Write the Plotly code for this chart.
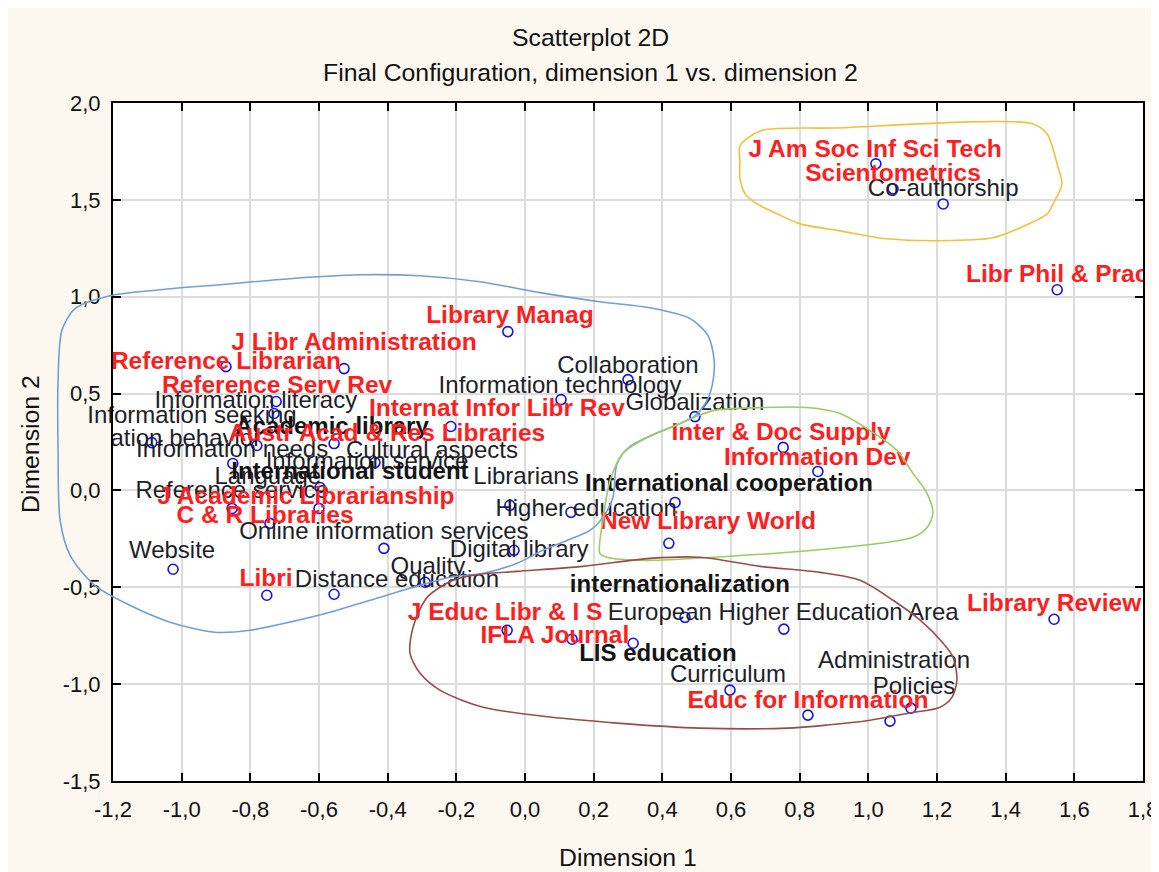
import plotly.graph_objects as go

# ---------------- data (Dimension 1, Dimension 2) ----------------
point_dim1 = [1.022, 1.072, 1.218, 1.550, -0.050, -0.871, -0.527, 0.300, 0.105, -0.725,
              -0.731, 0.495, -0.216, -1.087, -0.781, -0.556, -0.851, -0.437, -0.597, -0.600,
              -0.853, -0.743, -0.411, -0.044, -0.032, 0.134, 0.437, 0.419, -1.025, -0.752,
              -0.556, -0.291, -0.052, 0.137, 0.315, 0.466, 0.754, 0.597, 0.824, 1.063,
              1.124, 1.541, 0.752, 0.853]
point_dim2 = [1.686, 1.557, 1.479, 1.036, 0.820, 0.639, 0.629, 0.572, 0.469, 0.459,
              0.397, 0.381, 0.330, 0.247, 0.232, 0.242, 0.139, 0.144, 0.015, -0.093,
              -0.093, -0.170, -0.299, -0.077, -0.309, -0.113, -0.062, -0.273, -0.407, -0.541,
              -0.536, -0.474, -0.722, -0.768, -0.789, -0.655, -0.716, -1.031, -1.160, -1.191,
              -1.124, -0.665, 0.222, 0.098]

journal_labels = ["J Am Soc Inf Sci Tech", "Scientometrics", "Libr Phil & Prac", "Library Manag",
                  "J Libr Administration", "Reference Librarian", "Reference Serv Rev",
                  "Internat Infor Libr Rev", "Austr Acad & Res Libraries", "J Academic Librarianship",
                  "C & R Libraries", "Libri", "Inter & Doc Supply", "Information Dev",
                  "New Library World", "J Educ Libr & I S", "IFLA Journal", "Educ for Information",
                  "Library Review"]
journal_dim1 = [1.020, 1.072, 1.550, -0.044, -0.498, -0.871, -0.722, -0.082, -0.402, -0.638,
                -0.757, -0.754, 0.746, 0.851, 0.533, -0.058, 0.087, 0.824, 1.541]
journal_dim2 = [1.753, 1.629, 1.108, 0.897, 0.758, 0.660, 0.536, 0.418, 0.289, -0.036,
                -0.134, -0.464, 0.294, 0.165, -0.170, -0.639, -0.758, -1.093, -0.593]

main_labels = ["Academic library", "International student", "International cooperation",
               "internationalization", "LIS education"]
main_dim1 = [-0.562, -0.510, 0.594, 0.451, 0.387]
main_dim2 = [0.320, 0.088, 0.026, -0.495, -0.851]

keyword_labels = ["Co-authorship", "Collaboration", "Information technology", "Globalization",
                  "Information literacy", "Information seeking", "Information behavior",
                  "Information needs", "Information service", "Cultural aspects", "Librarians",
                  "Language", "Reference service", "Online information services", "Website",
                  "Distance education", "Quality", "Higher education", "Digital library",
                  "European Higher Education Area", "Curriculum", "Administration", "Policies"]
keyword_dim1 = [1.218, 0.300, 0.102, 0.495, -0.784, -0.970, -1.087, -0.853, -0.460, -0.271,
                0.003, -0.749, -0.853, -0.411, -1.028, -0.373, -0.283, 0.178, -0.017,
                0.752, 0.591, 1.075, 1.133]
keyword_dim2 = [1.552, 0.639, 0.536, 0.448, 0.454, 0.381, 0.258, 0.206, 0.144, 0.196,
                0.062, 0.062, -0.010, -0.222, -0.320, -0.469, -0.402, -0.103, -0.314,
                -0.639, -0.959, -0.887, -1.021]

# hand-drawn cluster outlines
orange_dim1 = [0.626, 0.685, 0.897, 1.480, 1.521, 1.553, 1.564, 1.538, 1.521, 1.442, 1.363,
               1.209, 1.054, 0.918, 0.801, 0.734, 0.676, 0.641, 0.626, 0.626, 0.626]
orange_dim2 = [1.778, 1.856, 1.871, 1.892, 1.840, 1.665, 1.582, 1.479, 1.428, 1.356, 1.304,
               1.289, 1.299, 1.340, 1.376, 1.428, 1.479, 1.531, 1.613, 1.701, 1.778]

green_dim1 = [0.492, 0.548, 0.693, 0.821, 0.918, 1.005, 1.084, 1.130, 1.171, 1.188, 1.171,
              1.130, 1.034, 0.839, 0.548, 0.355, 0.239, 0.218, 0.227, 0.248, 0.285, 0.355,
              0.452, 0.492]
green_dim2 = [0.376, 0.412, 0.428, 0.428, 0.397, 0.309, 0.206, 0.088, -0.015, -0.119, -0.191,
              -0.242, -0.273, -0.309, -0.345, -0.361, -0.345, -0.325, -0.155, 0.052, 0.191,
              0.273, 0.345, 0.376]

blue_dim1 = [-1.349, -1.311, -1.209, -1.063, -0.888, -0.685, -0.481, -0.306, -0.131, 0.044,
             0.218, 0.364, 0.481, 0.533, 0.551, 0.545, 0.527, 0.492, 0.402, 0.306, 0.268,
             0.256, 0.227, 0.189, 0.122, 0.052, -0.023, -0.122, -0.218, -0.335, -0.451,
             -0.568, -0.685, -0.801, -0.903, -1.034, -1.151, -1.253, -1.325, -1.354, -1.360,
             -1.360, -1.349]
blue_dim2 = [0.825, 0.938, 1.005, 1.036, 1.062, 1.093, 1.113, 1.108, 1.077, 1.021, 0.974,
             0.943, 0.887, 0.799, 0.670, 0.541, 0.454, 0.381, 0.309, 0.227, 0.139, -0.036,
             -0.139, -0.206, -0.258, -0.309, -0.376, -0.428, -0.448, -0.505, -0.567, -0.629,
             -0.680, -0.722, -0.732, -0.680, -0.593, -0.490, -0.335, -0.155, 0.206, 0.567,
             0.825]

brown_dim1 = [-0.131, -0.023, 0.169, 0.364, 0.510, 0.685, 0.859, 0.976, 1.072, 1.151, 1.218,
              1.247, 1.258, 1.244, 1.209, 1.121, 1.005, 0.880, 0.763, 0.510, 0.268, 0.073,
              -0.122, -0.248, -0.306, -0.335, -0.326, -0.285, -0.210, -0.131]
brown_dim2 = [-0.433, -0.418, -0.392, -0.351, -0.345, -0.392, -0.423, -0.464, -0.567, -0.670,
              -0.789, -0.861, -0.979, -1.067, -1.119, -1.149, -1.186, -1.211, -1.227, -1.227,
              -1.201, -1.170, -1.119, -1.031, -0.943, -0.840, -0.706, -0.552, -0.464, -0.433]

x_tickvals = [-1.2, -1.0, -0.8, -0.6, -0.4, -0.2, 0.0, 0.2, 0.4, 0.6, 0.8, 1.0, 1.2, 1.4, 1.6, 1.8]
x_ticktext = ["-1,2", "-1,0", "-0,8", "-0,6", "-0,4", "-0,2", "0,0", "0,2", "0,4", "0,6",
              "0,8", "1,0", "1,2", "1,4", "1,6", "1,8"]
y_tickvals = [-1.5, -1.0, -0.5, 0.0, 0.5, 1.0, 1.5, 2.0]
y_ticktext = ["-1,5", "-1,0", "-0,5", "0,0", "0,5", "1,0", "1,5", "2,0"]

title_line1 = "Scatterplot 2D"
title_line2 = "Final Configuration, dimension 1 vs. dimension 2"
x_title = "Dimension 1"
y_title = "Dimension 2"

# labels allowed to overflow the plot frame
unclipped = {"Information seeking", "Reference Librarian"}

# ---------------- layout geometry (figure sits at page offset 8,8) ----------------
W, H = 1159, 872
OFF = 8
x_range = [-1.2, 1.8]
y_range = [-1.5, 2.0]
x_dom = [(113 - OFF) / W, (1143 - OFF) / W]
y_dom = [(H - (781 - OFF)) / H, (H - (103 - OFF)) / H]


def full_range(rng, dom):
    scale = (rng[1] - rng[0]) / (dom[1] - dom[0])
    return [rng[0] - dom[0] * scale, rng[1] + (1 - dom[1]) * scale]


def px(xp):
    return (xp - OFF) / W


def py(yp):
    return 1 - (yp - OFF) / H


FONT = "Liberation Sans, Arial, sans-serif"
RED = "#FF1E1E"
DARK = "#1E1E2A"

fig = go.Figure()

# markers
fig.add_trace(go.Scatter(
    x=point_dim1, y=point_dim2, mode="markers",
    marker=dict(symbol="circle-open", size=10, color="#1010FF", line=dict(width=1.6)),
    hoverinfo="skip", showlegend=False, xaxis="x", yaxis="y"))


def add_labels(labels, xs, ys, color, weight, size):
    for clip in (True, False):
        sel = [i for i, t in enumerate(labels) if (t in unclipped) != clip]
        if not sel:
            continue
        fig.add_trace(go.Scatter(
            x=[xs[i] for i in sel], y=[ys[i] for i in sel],
            text=[labels[i] for i in sel], mode="text",
            textposition="middle center",
            textfont=dict(family=FONT, size=size, color=color, weight=weight),
            cliponaxis=clip, hoverinfo="skip", showlegend=False,
            xaxis="x", yaxis="y"))


add_labels(keyword_labels, keyword_dim1, keyword_dim2, DARK, "normal", 24)
add_labels(main_labels, main_dim1, main_dim2, "#141414", "bold", 24)
add_labels(journal_labels, journal_dim1, journal_dim2, RED, "bold", 24.5)

# cluster outlines on a full-figure overlay axis pair (same data scale)
for xs, ys, col in [(blue_dim1, blue_dim2, "#6F9FDB"),
                    (orange_dim1, orange_dim2, "#F7BE3A"),
                    (green_dim1, green_dim2, "#9CCB5E"),
                    (brown_dim1, brown_dim2, "#9A4B48")]:
    fig.add_trace(go.Scatter(
        x=xs, y=ys, mode="lines", line=dict(color=col, width=1.6, shape="spline", smoothing=0.8),
        hoverinfo="skip", showlegend=False, xaxis="x2", yaxis="y2"))

axis_common = dict(
    showgrid=True, gridcolor="#DCDCDC", gridwidth=1.5,
    showline=True, linecolor="black", linewidth=2, mirror="ticks",
    ticks="inside", ticklen=8, tickwidth=1.5, tickcolor="black",
    tickfont=dict(family=FONT, size=22, color="#111111"),
    zeroline=False, automargin=False, ticklabeloverflow="allow",
)

title_font = dict(family=FONT, size=24.8, color="#111111")

fig.update_layout(
    width=W, height=H,
    margin=dict(l=0, r=0, t=0, b=0),
    paper_bgcolor="#FDF8EF",
    plot_bgcolor="rgba(0,0,0,0)",
    xaxis=dict(domain=x_dom, range=x_range, tickmode="array", tickvals=x_tickvals,
               ticktext=x_ticktext, ticklabelstandoff=8, anchor="y", **axis_common),
    yaxis=dict(domain=y_dom, range=y_range, tickmode="array", tickvals=y_tickvals,
               ticktext=y_ticktext, ticklabelstandoff=6, anchor="x", **axis_common),
    xaxis2=dict(domain=[0, 1], range=full_range(x_range, x_dom), visible=False,
                anchor="y2", fixedrange=True),
    yaxis2=dict(domain=[0, 1], range=full_range(y_range, y_dom), visible=False,
                anchor="x2", fixedrange=True),
    shapes=[dict(type="rect", xref="x domain", yref="y domain", x0=0, x1=1, y0=0, y1=1,
                 fillcolor="white", line=dict(width=0), layer="below")],
    annotations=[
        dict(text=title_line1, x=px(590), y=py(38), xref="paper", yref="paper",
             xanchor="center", yanchor="middle", showarrow=False, font=title_font),
        dict(text=title_line2, x=px(590), y=py(72), xref="paper", yref="paper",
             xanchor="center", yanchor="middle", showarrow=False, font=title_font),
        dict(text=x_title, x=px(628), y=py(857), xref="paper", yref="paper",
             xanchor="center", yanchor="middle", showarrow=False, font=title_font),
        dict(text=y_title, x=px(30), y=py(444), xref="paper", yref="paper",
             xanchor="center", yanchor="middle", showarrow=False, textangle=-90,
             font=title_font),
    ],
)

fig.write_html("out.html")
